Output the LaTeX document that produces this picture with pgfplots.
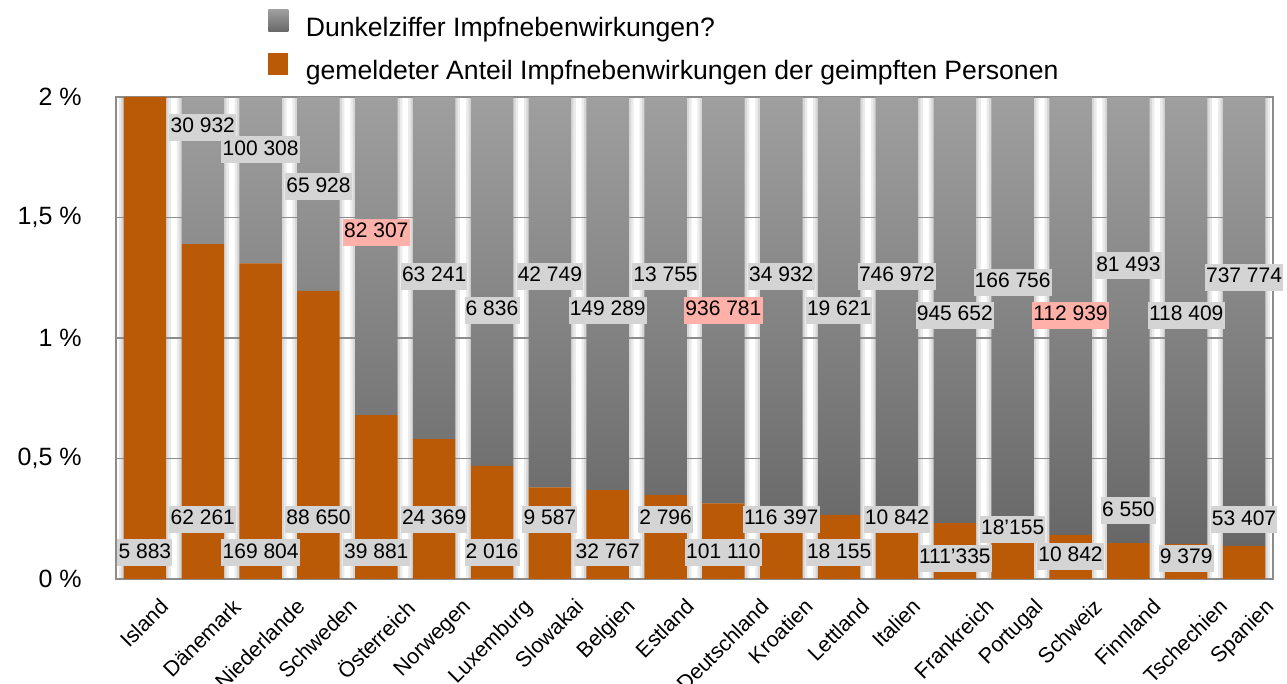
\documentclass[border=0pt]{standalone}
\usepackage{fontspec}
\setmainfont{Liberation Sans}
\usepackage{graphicx}
\usepackage{pgfplots}
\pgfplotsset{compat=1.18}
\definecolor{orangeC}{RGB}{186,90,6}
\definecolor{gtop}{RGB}{158,159,158}
\definecolor{gbot}{RGB}{102,103,102}
\definecolor{lblgray}{RGB}{212,212,212}
\definecolor{lblpink}{RGB}{255,176,168}
\definecolor{gridc}{RGB}{140,140,140}
\definecolor{shadowc}{RGB}{215,215,215}
\pgfplotsset{sqlegend/.style={legend image code/.code={\path[draw=none,##1] (0pt,-1.2pt) rectangle (10pt,9.8pt); \path (18.5pt,0pt);}}}
\tikzset{lbl/.style={fill=lblgray, inner xsep=0.6pt, inner ysep=1.5pt, text height=8pt, text depth=2.5pt, font=\fontsize{10.5}{12.6}\selectfont},
         lblp/.style={lbl, fill=lblpink}}
\begin{document}
\begin{tikzpicture}[font=\fontsize{10.5}{12.6}\selectfont]
\path[use as bounding box] (-58pt,-52.5pt) rectangle (585.5pt,289.5pt);
% soft shadows beside the bars
\begin{axis}[scale only axis, width=578.5pt, height=241pt, xmin=-0.5, xmax=19.5, ymin=0, ymax=2, hide axis, ybar]
\addplot[fill=shadowc!50!white, draw=none, bar width=26pt, bar shift=0pt] coordinates {(0,2)(1,2)(2,2)(3,2)(4,2)(5,2)(6,2)(7,2)(8,2)(9,2)(10,2)(11,2)(12,2)(13,2)(14,2)(15,2)(16,2)(17,2)(18,2)(19,2)};
\addplot[fill=shadowc, draw=none, bar width=23.5pt, bar shift=0pt] coordinates {(0,2)(1,2)(2,2)(3,2)(4,2)(5,2)(6,2)(7,2)(8,2)(9,2)(10,2)(11,2)(12,2)(13,2)(14,2)(15,2)(16,2)(17,2)(18,2)(19,2)};
\end{axis}
\begin{axis}[scale only axis, width=578.5pt, height=241pt,
  xmin=-0.5, xmax=19.5, ymin=0, ymax=2,
  ybar stacked, bar width=21.25pt,
  xtick={0,...,19},
  xticklabels={\rotatebox{45}{Island},\rotatebox{45}{Dänemark},\rotatebox{45}{Niederlande},\rotatebox{45}{Schweden},\rotatebox{45}{Österreich},\rotatebox{45}{Norwegen},\rotatebox{45}{Luxemburg},\rotatebox{45}{Slowakai},\rotatebox{45}{Belgien},\rotatebox{45}{Estland},\rotatebox{45}{Deutschland},\rotatebox{45}{Kroatien},\rotatebox{45}{Lettland},\rotatebox{45}{Italien},\rotatebox{45}{Frankreich},\rotatebox{45}{Portugal},\rotatebox{45}{Schweiz},\rotatebox{45}{Finnland},\rotatebox{45}{Tschechien},\rotatebox{45}{Spanien}},
  xticklabel style={anchor=north, inner sep=0pt, yshift=-9pt, xshift=-0.5pt, font=\fontsize{10.75}{13}\selectfont},
  ytick={0,0.5,1,1.5,2},
  yticklabels={0 \%,{0,5 \%},1 \%,{1,5 \%},2 \%},
  yticklabel style={anchor=east, inner sep=0pt, xshift=-17pt, font=\fontsize{12.5}{15}\selectfont},
  major tick length=0pt,
  ymajorgrids, major grid style={draw=gridc, line width=0.8pt},
  axis line style={draw=gridc, line width=1pt},
  legend style={at={(0.1314,1.1815)}, anchor=north west, draw=none, fill=none, inner sep=0pt, row sep=5pt, column sep=0pt, cells={anchor=west}, nodes={inner sep=0pt, text height=10pt, text depth=3pt}, font=\fontsize{13.3}{16}\selectfont},
]
\addplot[fill=orangeC, draw=none, forget plot] coordinates {(0,2.0)(1,1.39)(2,1.31)(3,1.195)(4,0.68)(5,0.58)(6,0.469)(7,0.38)(8,0.369)(9,0.349)(10,0.314)(11,0.28)(12,0.266)(13,0.25)(14,0.232)(15,0.149)(16,0.183)(17,0.149)(18,0.145)(19,0.137)};
\addplot[draw=none, top color=gtop, bottom color=gbot, forget plot] coordinates {(0,0.001)(1,0.61)(2,0.69)(3,0.805)(4,1.32)(5,1.42)(6,1.531)(7,1.62)(8,1.631)(9,1.651)(10,1.686)(11,1.72)(12,1.734)(13,1.75)(14,1.768)(15,1.851)(16,1.817)(17,1.851)(18,1.855)(19,1.863)};
\addlegendimage{sqlegend, top color=gtop, bottom color=gbot}
\addlegendentry{Dunkelziffer Impfnebenwirkungen?}
\addlegendimage{sqlegend, fill=orangeC}
\addlegendentry{gemeldeter Anteil Impfnebenwirkungen der geimpften Personen}
\end{axis}
% value labels
\begin{axis}[scale only axis, width=578.5pt, height=241pt, xmin=-0.5, xmax=19.5, ymin=0, ymax=2, hide axis, clip=false]
\node[lbl]  at (axis cs:1,1.874) {30 932};
\node[lbl]  at (axis cs:2,1.782) {100 308};
\node[lbl]  at (axis cs:3,1.627) {65 928};
\node[lblp] at (axis cs:4,1.438) {82 307};
\node[lbl]  at (axis cs:5,1.257) {63 241};
\node[lbl]  at (axis cs:6,1.116) {6 836};
\node[lbl]  at (axis cs:7,1.257) {42 749};
\node[lbl]  at (axis cs:8,1.116) {149 289};
\node[lbl]  at (axis cs:9,1.257) {13 755};
\node[lblp] at (axis cs:10,1.116) {936 781};
\node[lbl]  at (axis cs:11,1.257) {34 932};
\node[lbl]  at (axis cs:12,1.116) {19 621};
\node[lbl]  at (axis cs:13,1.257) {746 972};
\node[lbl]  at (axis cs:14,1.095) {945 652};
\node[lbl]  at (axis cs:15,1.232) {166 756};
\node[lblp] at (axis cs:16,1.095) {112 939};
\node[lbl]  at (axis cs:17,1.299) {81 493};
\node[lbl]  at (axis cs:18,1.095) {118 409};
\node[lbl]  at (axis cs:19,1.253) {737 774};
\node[lbl] at (axis cs:0,0.108) {5 883};
\node[lbl] at (axis cs:1,0.247) {62 261};
\node[lbl] at (axis cs:2,0.108) {169 804};
\node[lbl] at (axis cs:3,0.247) {88 650};
\node[lbl] at (axis cs:4,0.108) {39 881};
\node[lbl] at (axis cs:5,0.247) {24 369};
\node[lbl] at (axis cs:6,0.108) {2 016};
\node[lbl] at (axis cs:7,0.247) {9 587};
\node[lbl] at (axis cs:8,0.108) {32 767};
\node[lbl] at (axis cs:9,0.247) {2 796};
\node[lbl] at (axis cs:10,0.108) {101 110};
\node[lbl] at (axis cs:11,0.247) {116 397};
\node[lbl] at (axis cs:12,0.108) {18 155};
\node[lbl] at (axis cs:13,0.247) {10 842};
\node[lbl] at (axis cs:14,0.087) {111'335};
\node[lbl] at (axis cs:15,0.207) {18'155};
\node[lbl] at (axis cs:16,0.095) {10 842};
\node[lbl] at (axis cs:17,0.284) {6 550};
\node[lbl] at (axis cs:18,0.087) {9 379};
\node[lbl] at (axis cs:19,0.245) {53 407};
\end{axis}
\end{tikzpicture}
\end{document}
